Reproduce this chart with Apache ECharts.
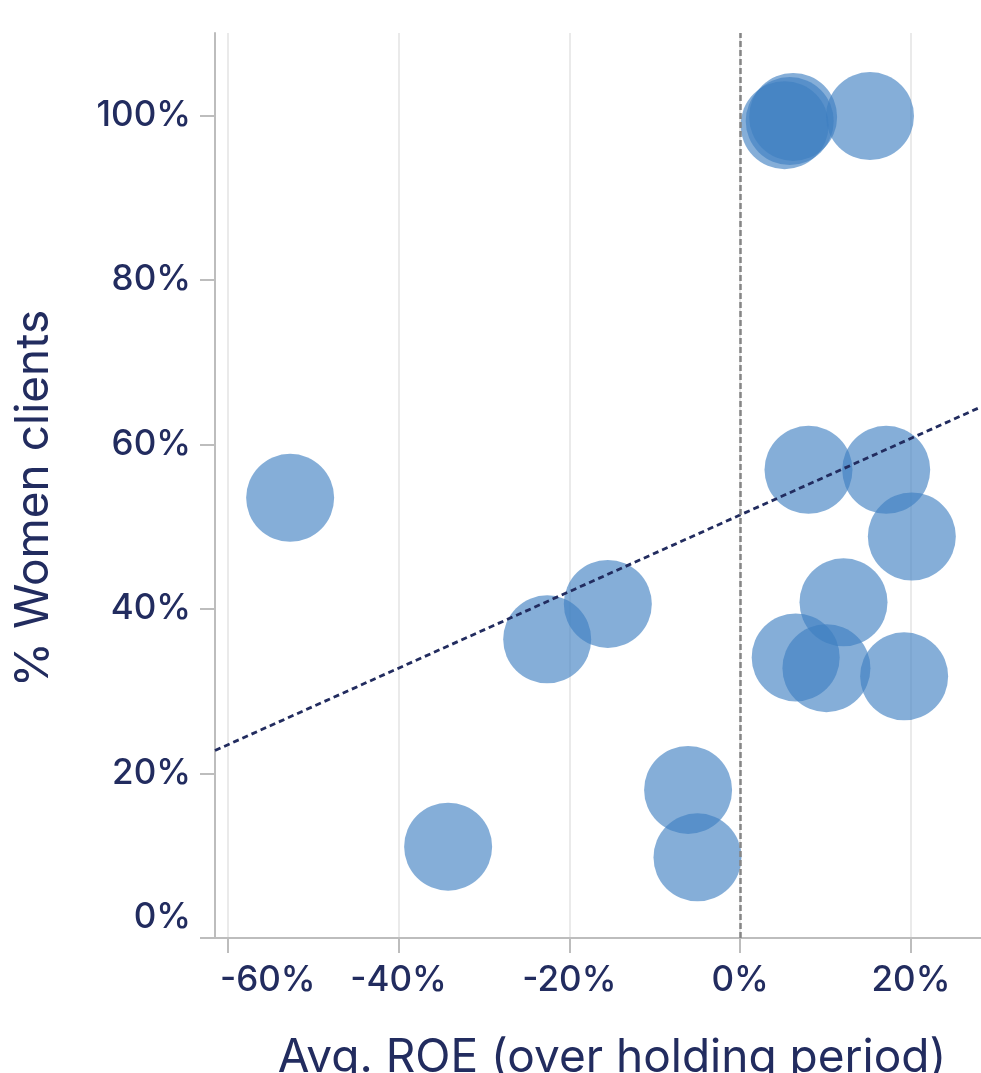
<!DOCTYPE html>
<html>
<head>
<meta charset="utf-8">
<style>
html,body{margin:0;padding:0;background:#fff;}
#chart{width:981px;height:1073px;}
</style>
<script src="https://cdn.jsdelivr.net/npm/echarts@6/dist/echarts.min.js"></script>
</head>
<body>
<div id="chart"></div>
<script>
// Avg. ROE (%) per bank
const roe = [-52.7, -34.2, -22.6, -15.5, -6.1, -5.0, 8.0, 17.1, 20.1, 12.1, 6.5, 10.1, 19.2, 15.2, 6.2, 5.2, 5.8];
// % women clients per bank
const women = [53.5, 11.1, 36.3, 40.6, 18.0, 9.8, 56.9, 56.9, 48.8, 40.8, 34.1, 32.8, 31.8, 99.9, 99.8, 98.8, 99.3];
const xTicks = [-60, -40, -20, 0, 20];
const yTicks = [0, 20, 40, 60, 80, 100];
const xRange = [-61.5, 28.2];
const yRange = [0, 110];

// least-squares trend line
const n = roe.length;
const mx = roe.reduce((a, b) => a + b, 0) / n;
const my = women.reduce((a, b) => a + b, 0) / n;
let sxy = 0, sxx = 0;
for (let i = 0; i < n; i++) { sxy += (roe[i] - mx) * (women[i] - my); sxx += (roe[i] - mx) ** 2; }
const slope = sxy / sxx, icpt = my - slope * mx;
const trend = xRange.map(x => [x, icpt + slope * x]);

const navy = '#222c5f';
const font = 'Inter';
const chart = echarts.init(document.getElementById('chart'));
chart.setOption({
  animation: false,
  grid: { left: 215, right: 0, top: 33, bottom: 135, containLabel: false, outerBoundsMode: 'none' },
  xAxis: {
    type: 'value', min: xRange[0], max: xRange[1],
    name: 'Avg. ROE (over holding period)', nameLocation: 'middle', nameGap: 97,
    nameTextStyle: { color: navy, fontSize: 46, fontFamily: font, padding: [0, 0, 0, 28] },
    axisLine: { show: true, onZero: false, lineStyle: { color: '#bdbdbd', width: 2 } },
    axisTick: { show: true, length: 15, customValues: xTicks, lineStyle: { color: '#bdbdbd', width: 2 } },
    axisLabel: {
      customValues: xTicks, color: navy, fontSize: 35, fontWeight: 500, fontFamily: font, margin: 25,
      formatter: v => v === xTicks[0] ? '{m|' + v + '%}' : v + '%',
      rich: { m: { color: navy, fontSize: 35, fontWeight: 500, fontFamily: font, padding: [0, 0, 0, 80] } }
    },
    splitLine: { show: true, lineStyle: { color: '#e3e3e3', width: 1.5 } }
  },
  yAxis: {
    type: 'value', min: yRange[0], max: yRange[1],
    name: '% Women clients', nameLocation: 'middle', nameGap: 158,
    nameTextStyle: { color: navy, fontSize: 46, fontFamily: font, padding: [0, 26, 0, 0] },
    axisLine: { show: true, onZero: false, lineStyle: { color: '#bdbdbd', width: 2 } },
    axisTick: { show: true, length: 15, customValues: yTicks, lineStyle: { color: '#bdbdbd', width: 2 } },
    axisLabel: {
      customValues: yTicks, color: navy, fontSize: 35, fontWeight: 500, fontFamily: font, margin: 24,
      formatter: v => v === 0 ? '{z|0%}' : v + '%',
      rich: { z: { color: navy, fontSize: 35, fontWeight: 500, fontFamily: font, padding: [0, 0, 42, 0] } }
    },
    splitLine: { show: false }
  },
  series: [
    {
      type: 'scatter', symbolSize: 88,
      data: roe.map((x, i) => [x, women[i]]),
      itemStyle: { color: 'rgb(61,126,193)', opacity: 0.63 },
      markLine: {
        silent: true, symbol: 'none', label: { show: false },
        lineStyle: { color: '#858585', type: [6, 3], width: 2.5 },
        data: [{ xAxis: 0 }]
      },
      z: 2
    },
    {
      type: 'line', data: trend, showSymbol: false, symbol: 'none',
      lineStyle: { color: navy, width: 2.8, type: [6, 4] }, z: 3
    }
  ]
});
</script>
</body>
</html>
